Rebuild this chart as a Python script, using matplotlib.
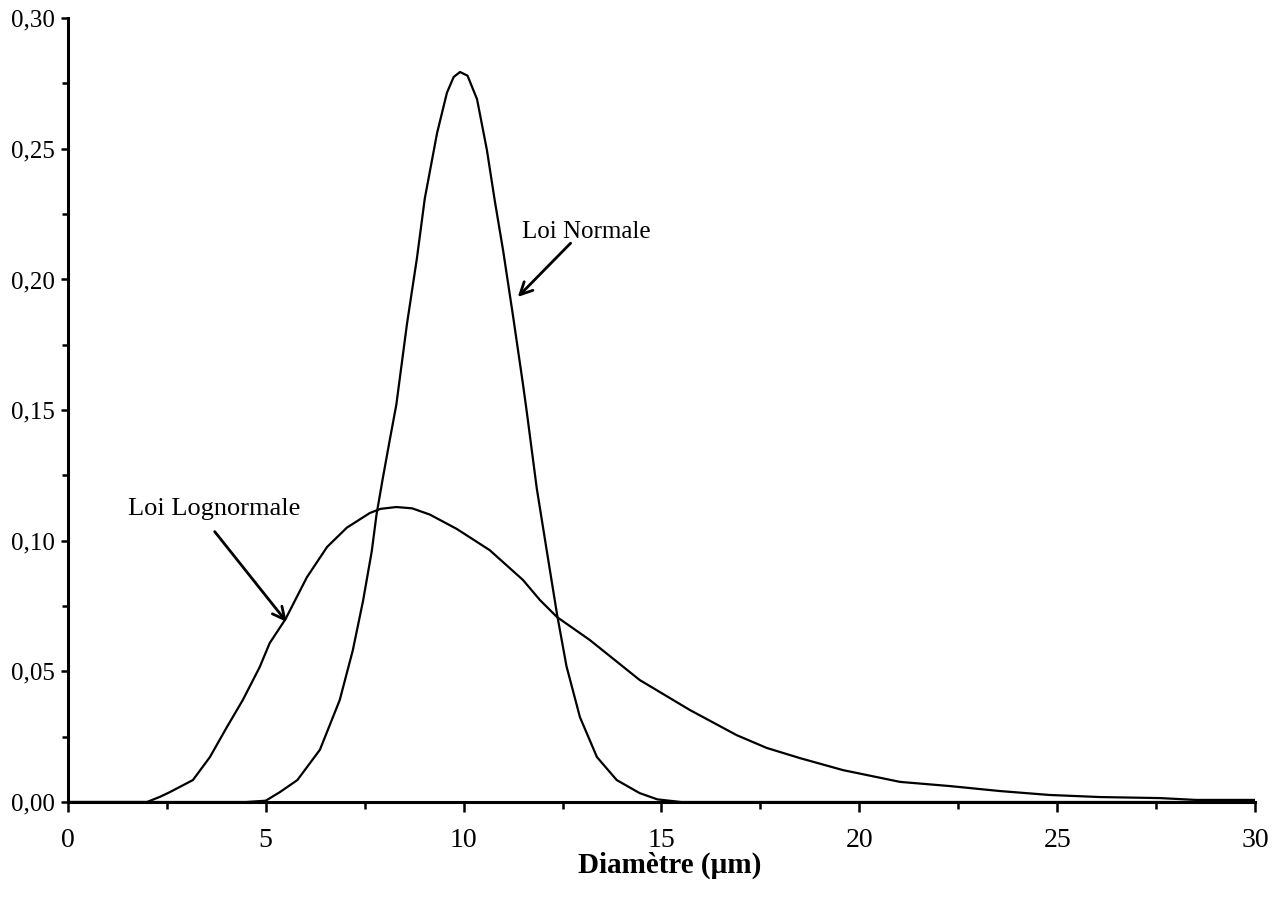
"""
Densites de la loi normale et de la loi lognormale en fonction du diametre
"""
import matplotlib
matplotlib.use("Agg")
import matplotlib.pyplot as plt
from matplotlib.ticker import MultipleLocator, FuncFormatter

# courbe loi normale
normal_x = [0, 4.5, 5.0, 5.36, 5.8, 6.37, 6.87, 7.2, 7.46, 7.68, 7.8, 7.96,
            8.14, 8.3, 8.57, 8.82, 9.02, 9.33, 9.58, 9.75, 9.91, 10.1, 10.34,
            10.59, 10.79, 11.0, 11.25, 11.5, 11.6, 11.85, 12.1, 12.36, 12.6,
            12.94, 13.37, 13.87, 14.45, 14.9, 15.5, 30]
normal_y = [0, 0, 0.0005, 0.0038, 0.0084, 0.020, 0.039, 0.058, 0.077, 0.096,
            0.110, 0.124, 0.139, 0.152, 0.183, 0.208, 0.231, 0.256, 0.2715,
            0.2775, 0.2794, 0.278, 0.269, 0.2495, 0.230, 0.211, 0.186, 0.160,
            0.149, 0.120, 0.0964, 0.072, 0.052, 0.0325, 0.0172, 0.0084,
            0.0034, 0.001, 0, 0]

# courbe loi lognormale
lognorm_x = [0, 2.0, 2.33, 2.58, 3.16, 3.59, 4.02, 4.42, 4.85, 5.1, 5.5,
             6.04, 6.55, 7.05, 7.63, 7.9, 8.3, 8.7, 9.15, 9.83, 10.66, 11.5,
             11.93, 12.36, 13.19, 14.45, 15.72, 16.9, 17.66, 18.5, 19.59,
             21.03, 22.29, 23.55, 24.8, 26.08, 27.6, 28.5, 30]
lognorm_y = [0, 0, 0.002, 0.0038, 0.0084, 0.0172, 0.0287, 0.039, 0.0517,
             0.0608, 0.070, 0.086, 0.0976, 0.105, 0.1106, 0.1122, 0.1129,
             0.1124, 0.110, 0.1045, 0.0964, 0.085, 0.0773, 0.0708, 0.062,
             0.0467, 0.0352, 0.0256, 0.0207, 0.0168, 0.0122, 0.0077, 0.0061,
             0.0042, 0.0027, 0.0019, 0.0015, 0.0008, 0.0008]

x_ticks = [0, 5, 10, 15, 20, 25, 30]
y_ticks = [0.00, 0.05, 0.10, 0.15, 0.20, 0.25, 0.30]

SERIF = ["Liberation Serif", "DejaVu Serif"]


def graficar():
    fig = plt.figure(figsize=(12.8, 9.09), dpi=100)
    axis = fig.add_axes([0.053, 0.1177, 0.9275, 0.8623])

    axis.plot(lognorm_x, lognorm_y, color="black", lw=1.6)
    axis.plot(normal_x, normal_y, color="black", lw=1.6)

    axis.set_xlim(0, 30)
    axis.set_ylim(0, 0.30)

    for side in ["top", "right"]:
        axis.spines[side].set_visible(False)
    for side in ["left", "bottom"]:
        axis.spines[side].set_linewidth(2.2)

    axis.set_xticks(x_ticks)
    axis.set_yticks(y_ticks)
    axis.xaxis.set_minor_locator(MultipleLocator(2.5))
    axis.yaxis.set_minor_locator(MultipleLocator(0.025))
    axis.yaxis.set_major_formatter(
        FuncFormatter(lambda v, _: ("%.2f" % v).replace(".", ","))
    )

    axis.tick_params(axis="x", which="major", direction="out", length=7,
                     width=1.8, pad=12, labelsize=20)
    axis.tick_params(axis="x", which="minor", direction="out", length=5,
                     width=1.8)
    axis.tick_params(axis="y", which="major", direction="out", length=5,
                     width=1.8, pad=4, labelsize=18)
    axis.tick_params(axis="y", which="minor", direction="out", length=4,
                     width=1.8)
    for lab in axis.get_xticklabels() + axis.get_yticklabels():
        lab.set_family(SERIF)

    axis.set_xlabel("Diamètre (µm)", family=SERIF, fontsize=21,
                    fontweight="bold")
    axis.xaxis.set_label_coords(0.507, -0.063)

    axis.annotate("Loi Normale", xy=(11.37, 0.1933), xytext=(11.47, 0.2158),
                  family=SERIF, fontsize=18, ha="left", va="baseline",
                  arrowprops=dict(arrowstyle="->", lw=2, color="black",
                                  mutation_scale=22, shrinkA=0, shrinkB=0,
                                  patchA=None, relpos=(0.38, 0)))
    axis.annotate("Loi Lognormale", xy=(5.53, 0.0689), xytext=(1.52, 0.1098),
                  family=SERIF, fontsize=19, ha="left", va="baseline",
                  arrowprops=dict(arrowstyle="->", lw=2, color="black",
                                  mutation_scale=22, shrinkA=8, shrinkB=0,
                                  relpos=(0.45, 0)))
    return fig


if __name__ == "__main__":
    figura = graficar()
    figura.savefig("out.png", dpi=100)
